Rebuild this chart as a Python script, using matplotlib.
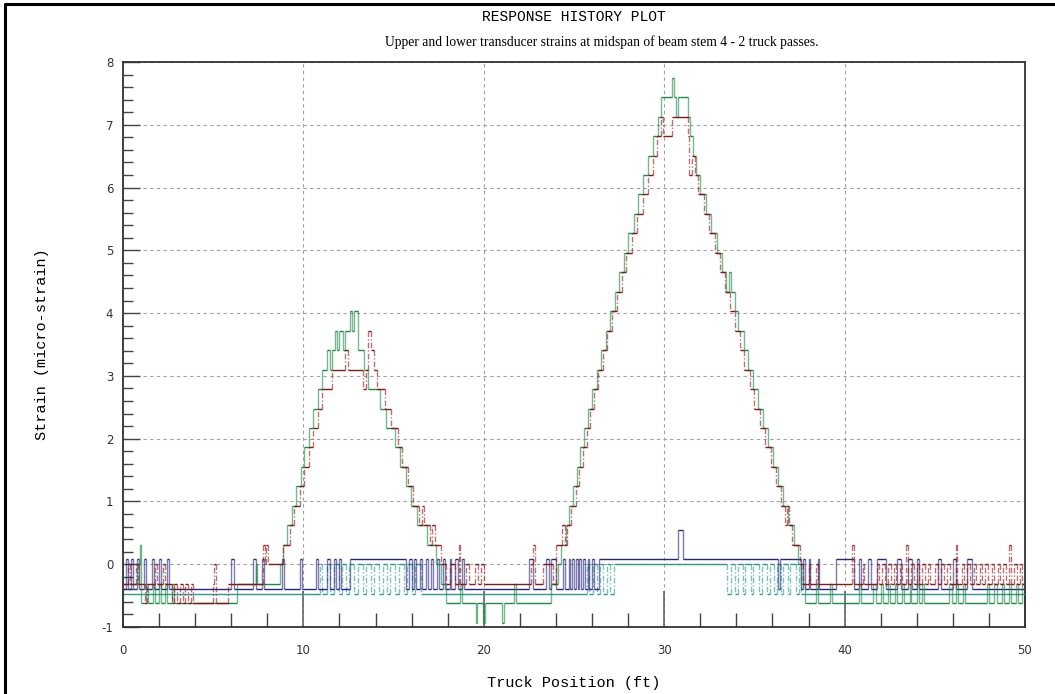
import matplotlib.pyplot as plt
from matplotlib.lines import Line2D
import numpy as np

plt.rcParams['axes.unicode_minus'] = False

# step breakpoints (truck position ft, strain micro-strain)
red_x = [0.0, 0.25, 0.4, 0.7, 0.85, 1.2, 1.35, 1.75, 1.9, 2.2,
         2.35, 2.7, 2.85, 3.0, 3.15, 3.3, 3.45, 3.6, 3.75, 3.9,
         4.05, 5.0, 5.05, 5.15, 5.8, 7.75, 7.85, 7.95, 8.05, 8.85,
         9.0, 9.25, 9.5, 9.8, 10.05, 10.3, 10.55, 10.8, 11.05, 11.6,
         12.3, 12.45, 13.3, 13.45, 13.6, 13.75, 13.9, 14.1, 14.5, 14.85,
         15.25, 15.45, 15.8, 16.1, 16.4, 16.6, 16.7, 17.0, 17.15, 17.3,
         17.6, 17.9, 18.1, 18.4, 18.6, 18.7, 19.0, 19.2, 19.5, 19.7,
         19.85, 20.0, 22.6, 22.75, 22.85, 23.3, 23.85, 24.0, 24.35, 24.5,
         24.6, 24.85, 25.1, 25.3, 25.5, 25.7, 25.9, 26.1, 26.35, 26.6,
         26.85, 27.1, 27.4, 27.65, 27.9, 28.2, 28.5, 28.8, 29.1, 29.4,
         29.6, 29.85, 29.95, 30.45, 31.3, 31.4, 31.55, 31.7, 31.9, 32.2,
         32.5, 32.8, 33.1, 33.35, 33.65, 33.9, 34.2, 34.45, 34.75, 35.0,
         35.3, 35.6, 35.9, 36.2, 36.5, 36.7, 36.8, 36.9, 37.1, 37.5,
         37.7, 38.0, 38.1, 38.4, 38.5, 40.4, 40.5, 41.0, 41.1, 41.8,
         41.9, 42.1, 42.25, 42.4, 42.55, 42.75, 42.85, 43.05, 43.2, 43.4,
         43.5, 43.7, 43.85, 44.0, 44.1, 44.3, 44.45, 44.6, 44.75, 45.0,
         45.15, 45.35, 45.5, 45.7, 45.85, 46.15, 46.25, 46.5, 46.6, 46.8,
         46.95, 47.15, 47.3, 47.5, 47.6, 47.8, 47.95, 48.15, 48.3, 48.5,
         48.6, 48.8, 48.95, 49.1, 49.2, 49.4, 49.55, 49.7, 49.85, 50.0]
red_y = [-0.31, 0.0, -0.31, 0.0, -0.31, -0.62, -0.31, 0.0, -0.31, 0.0,
         -0.31, -0.62, -0.31, -0.62, -0.31, -0.62, -0.31, -0.62, -0.31, -0.62,
         -0.62, -0.31, 0.0, -0.62, -0.31, 0.31, 0.0, 0.31, 0.0, 0.31,
         0.31, 0.62, 0.93, 1.24, 1.55, 1.86, 2.17, 2.48, 2.79, 3.1,
         3.41, 3.1, 2.79, 3.1, 3.72, 3.41, 3.1, 2.79, 2.48, 2.17,
         1.86, 1.55, 1.24, 0.93, 0.62, 0.93, 0.62, 0.31, 0.62, 0.31,
         0.0, -0.31, 0.0, -0.31, 0.31, -0.31, 0.0, -0.31, 0.0, -0.31,
         0.0, -0.31, 0.0, 0.31, -0.31, 0.0, -0.31, 0.31, 0.62, 0.31,
         0.62, 0.93, 1.24, 1.55, 1.86, 2.17, 2.48, 2.79, 3.1, 3.41,
         3.72, 4.03, 4.34, 4.65, 4.96, 5.27, 5.58, 5.89, 6.2, 6.51,
         6.82, 7.13, 6.82, 7.13, 6.82, 6.2, 6.51, 6.2, 5.89, 5.58,
         5.27, 4.96, 4.65, 4.34, 4.03, 3.72, 3.41, 3.1, 2.79, 2.48,
         2.17, 1.86, 1.55, 1.24, 0.93, 0.62, 0.93, 0.62, 0.31, 0.0,
         -0.31, 0.0, -0.31, 0.0, -0.31, 0.31, -0.31, 0.0, -0.31, 0.0,
         -0.31, 0.0, -0.31, 0.0, -0.31, 0.0, -0.31, 0.0, -0.31, 0.31,
         -0.31, 0.0, -0.31, 0.0, -0.31, 0.0, -0.31, 0.0, -0.31, 0.0,
         -0.31, 0.0, -0.31, 0.0, -0.31, 0.31, -0.31, 0.0, -0.31, 0.0,
         -0.31, 0.0, -0.31, 0.0, -0.31, 0.0, -0.31, 0.0, -0.31, 0.0,
         -0.31, 0.0, -0.31, 0.31, -0.31, 0.0, -0.31, 0.0, -0.31, -0.31]

green_x = [0.0, 0.9, 0.95, 1.0, 1.3, 1.4, 1.65, 1.75, 2.0, 2.1,
           2.35, 2.45, 2.7, 2.8, 6.3, 7.35, 7.45, 8.7, 8.85, 9.1,
           9.35, 9.6, 9.85, 10.05, 10.3, 10.55, 10.8, 11.05, 11.3, 11.5,
           11.6, 11.75, 11.85, 11.95, 12.2, 12.3, 12.6, 12.7, 12.8, 13.05,
           13.35, 13.6, 14.25, 14.6, 15.1, 15.35, 15.7, 15.95, 16.3, 16.85,
           17.35, 17.6, 17.9, 18.7, 18.8, 19.55, 19.65, 19.95, 20.05, 21.0,
           21.1, 21.7, 21.8, 23.7, 24.1, 24.3, 24.55, 24.75, 24.95, 25.15,
           25.35, 25.55, 25.8, 26.0, 26.25, 26.5, 26.75, 27.0, 27.25, 27.5,
           27.75, 28.0, 28.3, 28.55, 28.85, 29.1, 29.4, 29.65, 29.85, 30.45,
           30.55, 30.65, 30.75, 30.85, 31.3, 31.45, 31.6, 31.75, 32.0, 32.3,
           32.6, 32.9, 33.2, 33.45, 33.6, 33.7, 33.9, 34.1, 34.4, 34.65,
           34.9, 35.2, 35.5, 35.75, 36.05, 36.3, 36.6, 36.85, 37.2, 37.4,
           37.6, 37.8, 38.4, 38.5, 39.2, 39.3, 40.8, 40.9, 41.6, 41.75,
           42.0, 42.15, 42.4, 42.5, 42.8, 42.9, 43.2, 43.3, 43.6, 43.7,
           44.0, 44.1, 44.3, 44.4, 45.8, 45.95, 46.2, 46.3, 46.55, 46.7,
           47.9, 48.0, 48.3, 48.45, 48.7, 48.85, 49.1, 49.2, 49.5, 49.6,
           49.85, 50.0]
green_y = [-0.31, 0.0, 0.31, -0.62, -0.31, -0.62, -0.31, -0.62, -0.31, -0.62,
           -0.31, -0.62, -0.31, -0.62, -0.31, 0.0, -0.31, 0.0, 0.31, 0.62,
           0.93, 1.24, 1.55, 1.86, 2.17, 2.48, 2.79, 3.1, 3.41, 3.1,
           3.41, 3.72, 3.41, 3.72, 3.41, 3.72, 4.03, 3.72, 4.03, 3.41,
           3.1, 2.79, 2.48, 2.17, 1.86, 1.55, 1.24, 0.93, 0.62, 0.31,
           0.0, -0.31, -0.62, -0.31, -0.62, -0.93, -0.62, -0.93, -0.62, -0.93,
           -0.62, -0.31, -0.62, -0.31, 0.0, 0.31, 0.62, 0.93, 1.24, 1.55,
           1.86, 2.17, 2.48, 2.79, 3.1, 3.41, 3.72, 4.03, 4.34, 4.65,
           4.96, 5.27, 5.58, 5.89, 6.2, 6.51, 6.82, 7.13, 7.44, 7.75,
           7.44, 7.13, 7.44, 7.44, 7.13, 6.82, 6.51, 6.2, 5.89, 5.58,
           5.27, 4.96, 4.65, 4.34, 4.65, 4.34, 4.03, 3.72, 3.41, 3.1,
           2.79, 2.48, 2.17, 1.86, 1.55, 1.24, 0.93, 0.62, 0.31, 0.0,
           -0.31, -0.62, -0.31, -0.62, -0.31, -0.62, -0.31, -0.62, -0.31, -0.62,
           -0.31, -0.62, -0.31, -0.62, -0.31, -0.62, -0.31, -0.62, -0.31, -0.62,
           -0.31, -0.62, -0.31, -0.62, -0.31, -0.62, -0.31, -0.62, -0.31, -0.62,
           -0.31, -0.62, -0.31, -0.62, -0.31, -0.62, -0.31, -0.62, -0.31, -0.62,
           -0.31, -0.31]

blue_x = [0.0, 0.15, 0.3, 0.45, 0.55, 0.8, 0.9, 1.15, 1.25, 1.6,
          1.7, 2.0, 2.1, 2.45, 2.55, 6.0, 6.15, 7.2, 7.35, 7.7,
          7.8, 8.8, 8.9, 9.8, 9.9, 10.7, 10.8, 11.3, 11.45, 11.7,
          11.8, 12.0, 12.1, 12.6, 15.7, 15.85, 16.0, 16.15, 16.25, 16.45,
          16.55, 16.8, 16.9, 17.1, 17.2, 17.4, 17.5, 17.75, 17.85, 18.1,
          18.2, 18.4, 18.55, 18.8, 18.9, 22.5, 22.7, 23.45, 23.6, 23.75,
          24.0, 24.4, 24.5, 24.7, 24.8, 24.9, 25.0, 25.1, 25.2, 25.3,
          25.4, 25.5, 25.6, 25.75, 25.85, 26.0, 26.1, 26.4, 30.75, 31.05,
          36.3, 36.4, 37.6, 37.7, 37.8, 38.0, 38.1, 38.5, 38.6, 39.5,
          40.5, 40.8, 40.9, 41.3, 41.45, 41.8, 42.3, 42.9, 43.15, 43.5,
          43.75, 44.0, 44.1, 45.2, 45.35, 46.0, 46.15, 46.8, 47.05, 50.0]
blue_y = [-0.39, 0.08, -0.39, 0.08, -0.39, 0.08, -0.39, 0.08, -0.39, 0.08,
          -0.39, 0.08, -0.39, 0.08, -0.39, 0.08, -0.39, 0.08, -0.39, 0.08,
          -0.39, 0.08, -0.39, 0.08, -0.39, 0.08, -0.39, 0.08, -0.39, 0.08,
          -0.39, 0.08, -0.39, 0.08, -0.39, 0.08, -0.39, 0.08, -0.39, 0.08,
          -0.39, 0.08, -0.39, 0.08, -0.39, 0.08, -0.39, 0.08, -0.39, 0.08,
          -0.39, 0.08, -0.39, 0.08, -0.39, 0.08, -0.39, 0.08, -0.39, 0.08,
          -0.39, 0.08, -0.39, 0.08, -0.39, 0.08, -0.39, 0.08, -0.39, 0.08,
          -0.39, 0.08, -0.39, 0.08, -0.39, 0.08, -0.39, 0.08, 0.55, 0.08,
          -0.39, 0.08, -0.39, 0.08, -0.39, 0.08, -0.39, 0.08, -0.39, 0.08,
          -0.39, 0.08, -0.39, 0.08, -0.39, 0.08, -0.39, 0.08, -0.39, 0.08,
          -0.39, 0.08, -0.39, 0.08, -0.39, 0.08, -0.39, 0.08, -0.39, -0.39]

teal_x = [0.0, 10.9, 11.05, 11.3, 11.5, 11.7, 11.95, 12.15, 12.35, 12.5,
          12.8, 13.0, 13.3, 13.45, 13.75, 13.9, 14.2, 14.4, 14.65, 14.8,
          15.1, 15.3, 15.55, 15.75, 16.0, 16.2, 16.5, 25.7, 25.85, 26.05,
          26.25, 26.45, 26.6, 26.85, 27.0, 27.2, 33.5, 33.7, 33.9, 34.1,
          34.35, 34.5, 34.8, 34.95, 35.25, 35.4, 35.7, 35.85, 36.1, 36.25,
          36.5, 36.6, 36.85, 37.0, 37.3, 37.45, 37.6, 50.0]
teal_y = [-0.47, 0.0, -0.47, 0.0, -0.47, 0.0, -0.47, 0.0, -0.47, 0.0,
          -0.47, 0.0, -0.47, 0.0, -0.47, 0.0, -0.47, 0.0, -0.47, 0.0,
          -0.47, 0.0, -0.47, 0.0, -0.47, 0.0, -0.47, 0.0, -0.47, 0.0,
          -0.47, 0.0, -0.47, 0.0, -0.47, 0.0, -0.47, 0.0, -0.47, 0.0,
          -0.47, 0.0, -0.47, 0.0, -0.47, 0.0, -0.47, 0.0, -0.47, 0.0,
          -0.47, 0.0, -0.47, 0.0, -0.47, 0.0, -0.47, -0.47]

mono = ['Liberation Mono', 'DejaVu Sans Mono']


def draw_steps(ax, xs, ys, color, dashed):
    xs = np.asarray(xs)
    ys = np.asarray(ys)
    ax.hlines(ys[:-1], xs[:-1], xs[1:], colors=color, lw=1.0, zorder=3)
    ls = (0, (4, 1.5, 1, 1.5)) if dashed else 'solid'
    ax.vlines(xs[1:-1], ys[:-2], ys[1:-1], colors=color, lw=1.0, alpha=0.6,
              linestyles=ls, zorder=3)


fig = plt.figure(figsize=(10.55, 6.94), dpi=100)
ax = fig.add_axes([123 / 1055, 1 - 627 / 694, 902 / 1055, 565 / 694])

draw_steps(ax, teal_x, teal_y, '#2a9a8c', True)
draw_steps(ax, blue_x, blue_y, '#26267e', False)
draw_steps(ax, green_x, green_y, '#1b8a45', False)
draw_steps(ax, red_x, red_y, '#8b1616', True)

ax.set_xlim(0, 50)
ax.set_ylim(-1, 8)
ax.set_xticks(np.arange(0, 51, 10))
ax.set_xticks(np.arange(0, 51, 2), minor=True)
ax.set_yticks(np.arange(-1, 9, 1))
ax.set_yticks(np.arange(-1, 8.01, 0.2), minor=True)
ax.grid(True, which='major', color='#a0a0a0', linestyle=(0, (3, 3)), lw=0.8)

ax.tick_params(axis='x', which='major', direction='in', length=26, width=1.2,
               color='#666666', pad=12, labelsize=8.5, labelcolor='#333333')
ax.tick_params(axis='x', which='minor', direction='in', length=10, width=1.0,
               color='#444444')
ax.tick_params(axis='y', which='major', direction='in', length=12, width=1.0,
               color='#444444', pad=7, labelsize=8.5, labelcolor='#333333')
ax.tick_params(axis='y', which='minor', direction='in', length=7, width=1.0,
               color='#444444')
for s in ax.spines.values():
    s.set_color('#333333')
    s.set_linewidth(1.3)

ax.set_xlabel('Truck Position (ft)', family=mono, fontsize=11, labelpad=14)
ax.set_ylabel('Strain (micro-strain)', family=mono, fontsize=11, labelpad=38)

fig.text(574 / 1055, 1 - 17 / 694, 'RESPONSE HISTORY PLOT', family=mono,
         fontsize=10.5, ha='center', va='center')
fig.text(602 / 1055, 1 - 42 / 694,
         'Upper and lower transducer strains at midspan of beam stem 4 - 2 truck passes.',
         family='Liberation Serif', fontsize=9.8, ha='center', va='center')

# window frame on left and top
fig.add_artist(Line2D([5 / 1055, 5 / 1055, 1.0], [0.0, 1 - 4 / 694, 1 - 4 / 694],
                      transform=fig.transFigure, color='black', lw=2.2))

fig.savefig('out.png', dpi=100)
